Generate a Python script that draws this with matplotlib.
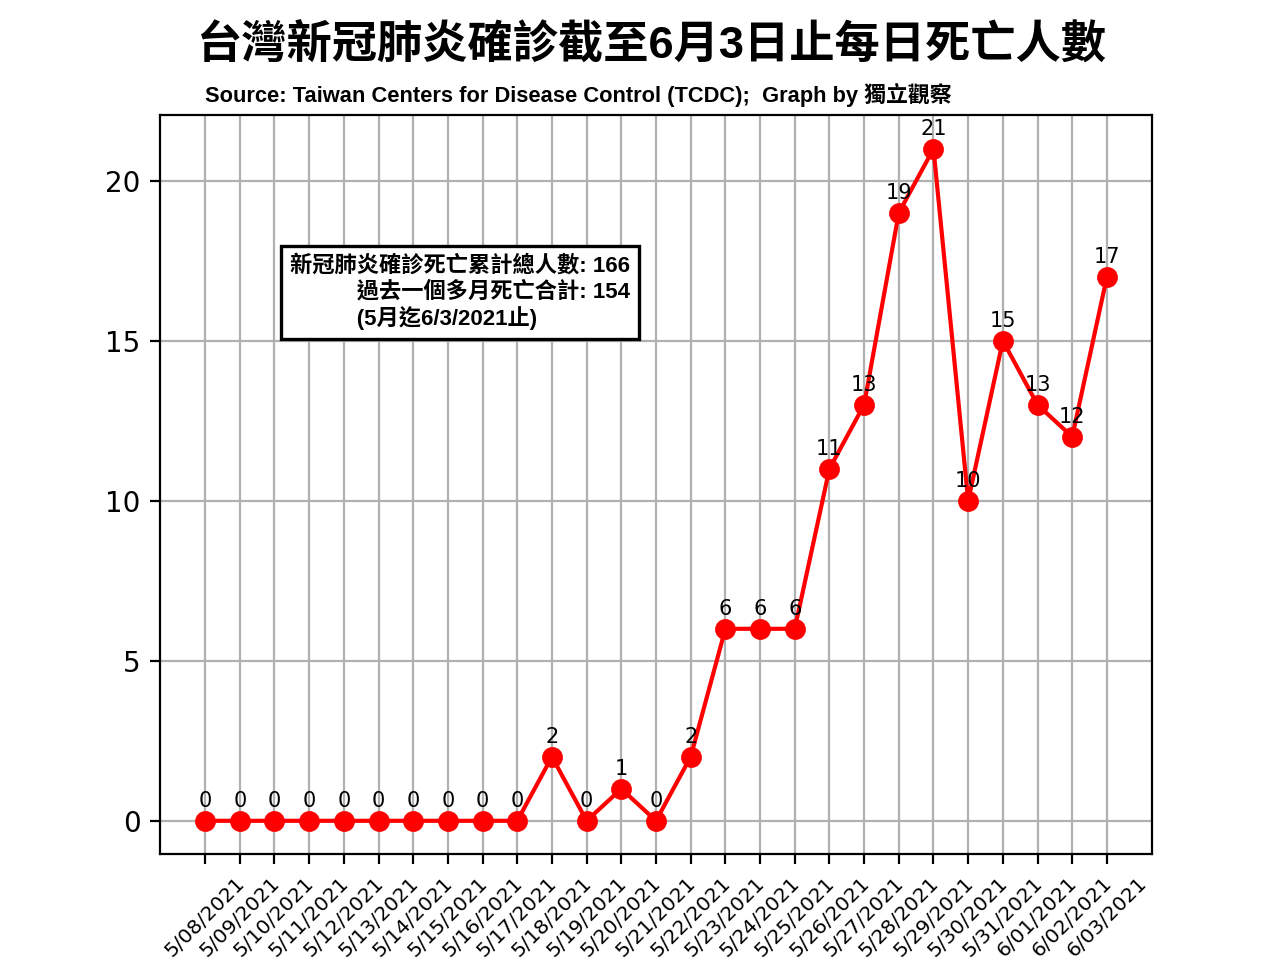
import matplotlib
matplotlib.use("Agg")
import matplotlib.pyplot as plt

dates = ["5/08/2021", "5/09/2021", "5/10/2021", "5/11/2021", "5/12/2021",
         "5/13/2021", "5/14/2021", "5/15/2021", "5/16/2021", "5/17/2021",
         "5/18/2021", "5/19/2021", "5/20/2021", "5/21/2021", "5/22/2021",
         "5/23/2021", "5/24/2021", "5/25/2021", "5/26/2021", "5/27/2021",
         "5/28/2021", "5/29/2021", "5/30/2021", "5/31/2021", "6/01/2021",
         "6/02/2021", "6/03/2021"]
deaths = [0, 0, 0, 0, 0, 0, 0, 0, 0, 0, 2, 0, 1, 0, 2, 6, 6, 6,
          11, 13, 19, 21, 10, 15, 13, 12, 17]

total_deaths = 166
recent_deaths = 154

CJK = ["Liberation Sans", "Noto Sans CJK TC"]

fig, ax = plt.subplots(figsize=(6.4, 4.8), dpi=200)

ax.plot(dates, deaths, color="red", marker="o", markersize=6.5, linewidth=1.5)
for d, v in zip(dates, deaths):
    ax.annotate(str(v), (d, v), xytext=(0, 5), textcoords="offset points",
                ha="center", fontsize=7.5)

ax.grid(True)
ax.tick_params(axis="x", labelrotation=45, labelsize=7.3)

# line 1/2 right-aligned, line 3 starts under line 2 -> pad with ideographic spaces
box_txt = (f"新冠肺炎確診死亡累計總人數: {total_deaths}\n"
           f"\u3000\u3000\u3000過去一個多月死亡合計: {recent_deaths}\n"
           "\u3000\u3000\u3000(5月迄6/3/2021止)")
ax.text(0.474, 0.76, box_txt, transform=ax.transAxes, ha="right", va="center",
        multialignment="left", fontsize=8, family=CJK, fontweight="bold",
        linespacing=1.22,
        bbox=dict(boxstyle="square,pad=0.4", facecolor="white", edgecolor="black", linewidth=1.2))

fig.text(0.509, 0.952, "台灣新冠肺炎確診截至6月3日止每日死亡人數", ha="center", va="center",
         fontsize=16.3, fontweight="bold", family=CJK)
fig.text(0.16, 0.901, "Source: Taiwan Centers for Disease Control (TCDC);  Graph by 獨立觀察",
         ha="left", va="center", fontsize=7.9, fontweight="bold", family=CJK)

fig.savefig("out.png", dpi=200)
